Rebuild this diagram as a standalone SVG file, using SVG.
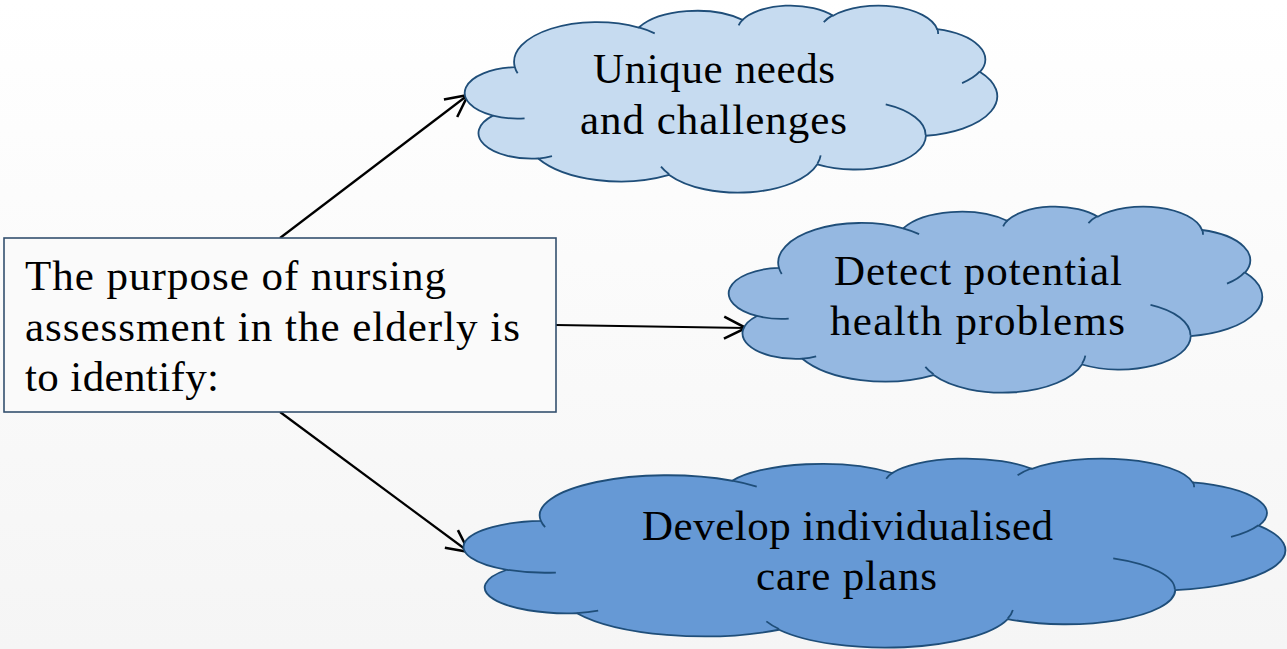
<svg xmlns="http://www.w3.org/2000/svg" width="1287" height="649" viewBox="0 0 1287 649">
  <style>
    .cloud path { stroke: #1F4E79; stroke-width: 1.8; vector-effect: non-scaling-stroke; stroke-linejoin: round; }
    .cloud .inner { fill: none; }
    .label { font-family: "Liberation Serif", "Times New Roman", serif; font-size: 43px; fill: #000; }
    .mid { text-anchor: middle; }
    .box { fill: #FAFAFA; stroke: #34506F; stroke-width: 1.6; }
    .conn { stroke: #000; stroke-width: 2.2; fill: none; }
  </style>
  <defs>
    <linearGradient id="bg" x1="0" y1="0" x2="0" y2="1">
      <stop offset="0" stop-color="#FFFFFF"/>
      <stop offset="1" stop-color="#F5F5F5"/>
    </linearGradient>
    <marker id="openArrow" markerUnits="userSpaceOnUse" markerWidth="30" markerHeight="30" viewBox="-22 -12 26 24" refX="0" refY="0" orient="auto">
      <path d="M-19,-9.5 L0,0 L-19,9.5" fill="none" stroke="#000" stroke-width="2.2"/>
    </marker>
  </defs>

  <rect x="0" y="0" width="1287" height="649" fill="url(#bg)"/>

  <!-- connectors -->
  <g id="connectors">
    <line class="conn" x1="280" y1="238" x2="468" y2="95" marker-end="url(#openArrow)"/>
    <line class="conn" x1="556" y1="325" x2="746" y2="328" marker-end="url(#openArrow)"/>
    <line class="conn" x1="280" y1="412" x2="469" y2="552" marker-end="url(#openArrow)"/>
  </g>

  <!-- source box -->
  <g id="purpose">
    <rect class="box" x="4" y="238" width="552" height="174"/>
    <text class="label" x="25" y="290" textLength="421">The purpose of nursing</text>
    <text class="label" x="25" y="341" textLength="495">assessment in the elderly is</text>
    <text class="label" x="25" y="391" textLength="194">to identify:</text>
  </g>

  <!-- cloud outlines are drawn in a 43200 x 43200 frame and scaled into place -->

  <!-- cloud: unique needs -->
  <g id="unique-needs" class="cloud">
    <g transform="translate(467,5) scale(0.012269,0.0043287)">
      <path d="M3900,14370 A6753,9190 0 0 1 14004,5201 A5333,7267 0 0 1 22456,3430 A4365,5945 0 0 1 29834,2479 A4857,6595 0 0 1 38319,5576 A5333,7273 0 0 1 41819,15460 A6775,9220 0 0 1 37404,30201 A5785,7867 0 0 1 28556,36811 A6752,9215 0 0 1 16479,39259 A7720,10543 0 0 1 5804,35466 A4360,5918 0 0 1 2111,25547 A4345,5945 0 0 1 3900,14370 Z" fill="#C6DBF0"/>
      <path class="inner" d="M4693,26177 A4345,5945 0 0 1 2111,25547 M6928,34899 A4360,5918 0 0 1 5804,35466 M16478,39090 A6752,9215 0 0 1 15811,37353 M28827,34751 A6752,9215 0 0 1 28560,36659 M34129,22954 A5785,7867 0 0 1 37381,30090 M41798,15354 A5333,7273 0 0 1 40351,18030 M38324,5426 A4857,6595 0 0 1 38400,6689 M29078,3952 A4857,6595 0 0 1 29821,2340 M22141,4720 A4365,5945 0 0 1 22500,3331 M14000,5192 A6753,9190 0 0 1 15301,6541 M4127,15789 A6753,9190 0 0 1 3901,14371"/>
    </g>
    <text class="label mid" x="714" y="83" textLength="242">Unique needs</text>
    <text class="label mid" x="713.5" y="134" textLength="267">and challenges</text>
  </g>

  <!-- cloud: detect potential health problems -->
  <g id="detect-problems" class="cloud">
    <g transform="translate(731,206) scale(0.012292,0.0043056)">
      <path d="M3900,14370 A6753,9190 0 0 1 14004,5201 A5333,7267 0 0 1 22456,3430 A4365,5945 0 0 1 29834,2479 A4857,6595 0 0 1 38319,5576 A5333,7273 0 0 1 41819,15460 A6775,9220 0 0 1 37404,30201 A5785,7867 0 0 1 28556,36811 A6752,9215 0 0 1 16479,39259 A7720,10543 0 0 1 5804,35466 A4360,5918 0 0 1 2111,25547 A4345,5945 0 0 1 3900,14370 Z" fill="#95B8E1"/>
      <path class="inner" d="M4693,26177 A4345,5945 0 0 1 2111,25547 M6928,34899 A4360,5918 0 0 1 5804,35466 M16478,39090 A6752,9215 0 0 1 15811,37353 M28827,34751 A6752,9215 0 0 1 28560,36659 M34129,22954 A5785,7867 0 0 1 37381,30090 M41798,15354 A5333,7273 0 0 1 40351,18030 M38324,5426 A4857,6595 0 0 1 38400,6689 M29078,3952 A4857,6595 0 0 1 29821,2340 M22141,4720 A4365,5945 0 0 1 22500,3331 M14000,5192 A6753,9190 0 0 1 15301,6541 M4127,15789 A6753,9190 0 0 1 3901,14371"/>
    </g>
    <text class="label mid" x="978" y="285" textLength="288">Detect potential</text>
    <text class="label mid" x="977.5" y="335" textLength="295">health problems</text>
  </g>

  <!-- cloud: individualised care plans -->
  <g id="care-plans" class="cloud">
    <g transform="translate(467,458) scale(0.018935,0.004375)">
      <path d="M3900,14370 A6753,9190 0 0 1 14004,5201 A5333,7267 0 0 1 22456,3430 A4365,5945 0 0 1 29834,2479 A4857,6595 0 0 1 38319,5576 A5333,7273 0 0 1 41819,15460 A6775,9220 0 0 1 37404,30201 A5785,7867 0 0 1 28556,36811 A6752,9215 0 0 1 16479,39259 A7720,10543 0 0 1 5804,35466 A4360,5918 0 0 1 2111,25547 A4345,5945 0 0 1 3900,14370 Z" fill="#6699D5"/>
      <path class="inner" d="M4693,26177 A4345,5945 0 0 1 2111,25547 M6928,34899 A4360,5918 0 0 1 5804,35466 M16478,39090 A6752,9215 0 0 1 15811,37353 M28827,34751 A6752,9215 0 0 1 28560,36659 M34129,22954 A5785,7867 0 0 1 37381,30090 M41798,15354 A5333,7273 0 0 1 40351,18030 M38324,5426 A4857,6595 0 0 1 38400,6689 M29078,3952 A4857,6595 0 0 1 29821,2340 M22141,4720 A4365,5945 0 0 1 22500,3331 M14000,5192 A6753,9190 0 0 1 15301,6541 M4127,15789 A6753,9190 0 0 1 3901,14371"/>
    </g>
    <text class="label mid" x="847.5" y="540" textLength="411">Develop individualised</text>
    <text class="label mid" x="846.5" y="590" textLength="181">care plans</text>
  </g>
</svg>
